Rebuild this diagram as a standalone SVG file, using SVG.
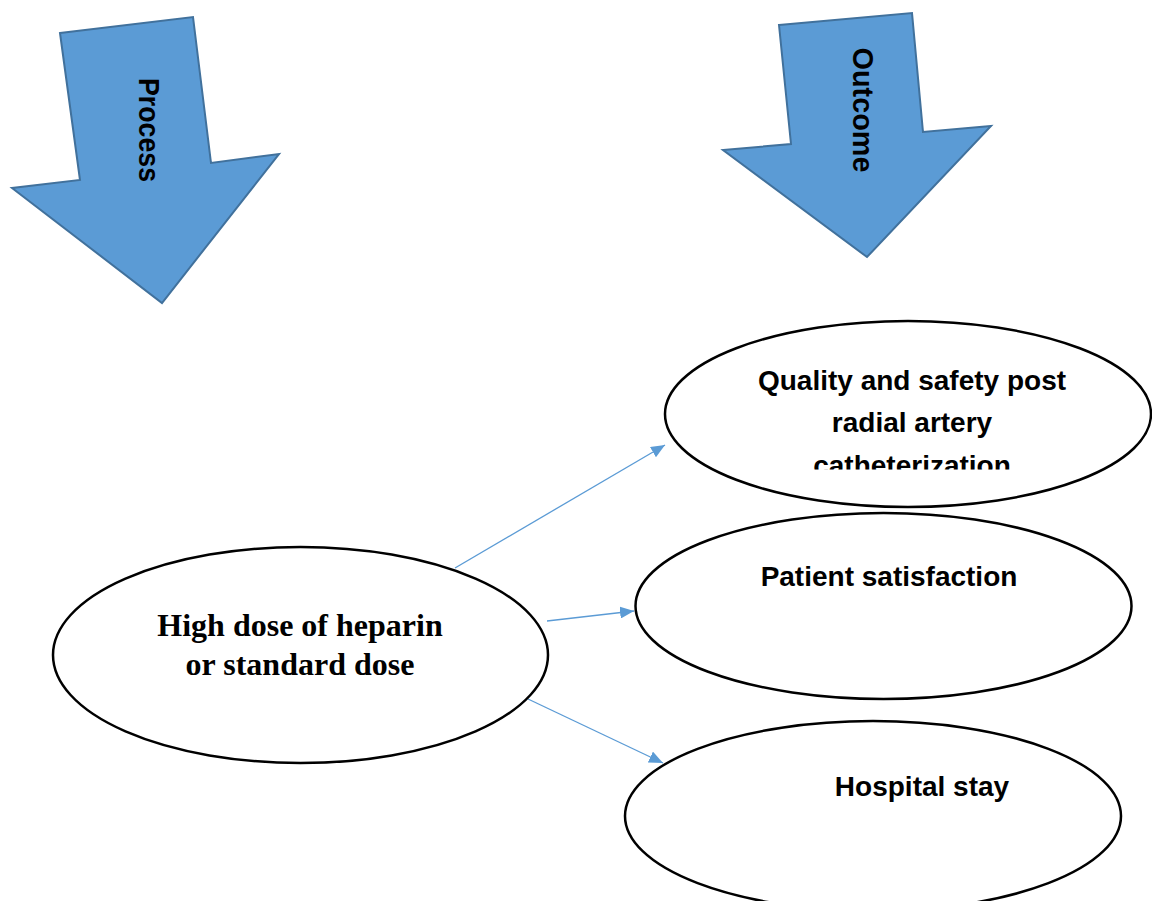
<svg xmlns="http://www.w3.org/2000/svg" width="1152" height="901" viewBox="0 0 1152 901">
  <style>
    .block { fill: #5B9BD5; stroke: #41719C; stroke-width: 2; stroke-linejoin: miter; }
    .block-label { font-family: "Liberation Sans", Arial, sans-serif; font-weight: bold; font-size: 30px; fill: #000; }
    .oval { fill: #fff; stroke: #000; stroke-width: 2.5; }
    .label { font-family: "Liberation Sans", Arial, sans-serif; font-weight: bold; font-size: 28px; fill: #000; text-anchor: middle; }
    .label-serif { font-family: "Liberation Serif", "Times New Roman", serif; font-weight: bold; font-size: 32px; fill: #000; text-anchor: middle; }
    .link { stroke: #5B9BD5; stroke-width: 1.3; fill: none; marker-end: url(#head); }
  </style>
  <defs>
    <marker id="head" markerUnits="userSpaceOnUse" markerWidth="14" markerHeight="12" refX="14" refY="6" orient="auto">
      <path d="M0,0 L14,6 L0,12 Z" fill="#5B9BD5"/>
    </marker>
    <clipPath id="quality-clip">
      <rect x="600" y="340" width="552" height="129.5"/>
    </clipPath>
  </defs>

  <rect width="1152" height="901" fill="#fff"/>

  <!-- Process block arrow -->
  <g id="process">
    <polygon class="block" points="60,33 193,17 211,163 279,154 162,303 12,188 80,180"/>
    <text class="block-label" text-anchor="middle" textLength="104" lengthAdjust="spacingAndGlyphs" transform="translate(139,130) rotate(90)">Process</text>
  </g>

  <!-- Outcome block arrow -->
  <g id="outcome">
    <polygon class="block" points="779,25 912,13 923,132 991,126 867,257 723,150 791,144"/>
    <text class="block-label" text-anchor="middle" textLength="125" lengthAdjust="spacingAndGlyphs" transform="translate(853,110) rotate(90)">Outcome</text>
  </g>

  <!-- Connectors -->
  <g id="connectors">
    <line class="link" x1="455" y1="568" x2="665" y2="445"/>
    <line class="link" x1="547" y1="621" x2="634" y2="611"/>
    <line class="link" x1="528" y1="699" x2="663" y2="763"/>
  </g>

  <!-- Intervention -->
  <g id="intervention">
    <ellipse class="oval" cx="300.5" cy="655" rx="247.5" ry="108"/>
    <text class="label-serif" x="300" y="636">High dose of heparin</text>
    <text class="label-serif" x="300" y="675">or standard dose</text>
  </g>

  <!-- Outcome measures -->
  <g id="quality">
    <ellipse class="oval" cx="908" cy="414" rx="243" ry="93"/>
    <g clip-path="url(#quality-clip)">
      <text class="label" x="912" y="390">Quality and safety post</text>
      <text class="label" x="912" y="432">radial artery</text>
      <text class="label" x="912" y="475">catheterization</text>
    </g>
  </g>

  <g id="satisfaction">
    <ellipse class="oval" cx="883.5" cy="606" rx="248" ry="93"/>
    <text class="label" x="889" y="586">Patient satisfaction</text>
  </g>

  <g id="stay">
    <ellipse class="oval" cx="873" cy="816" rx="248" ry="95"/>
    <text class="label" x="922" y="796">Hospital stay</text>
  </g>
</svg>
